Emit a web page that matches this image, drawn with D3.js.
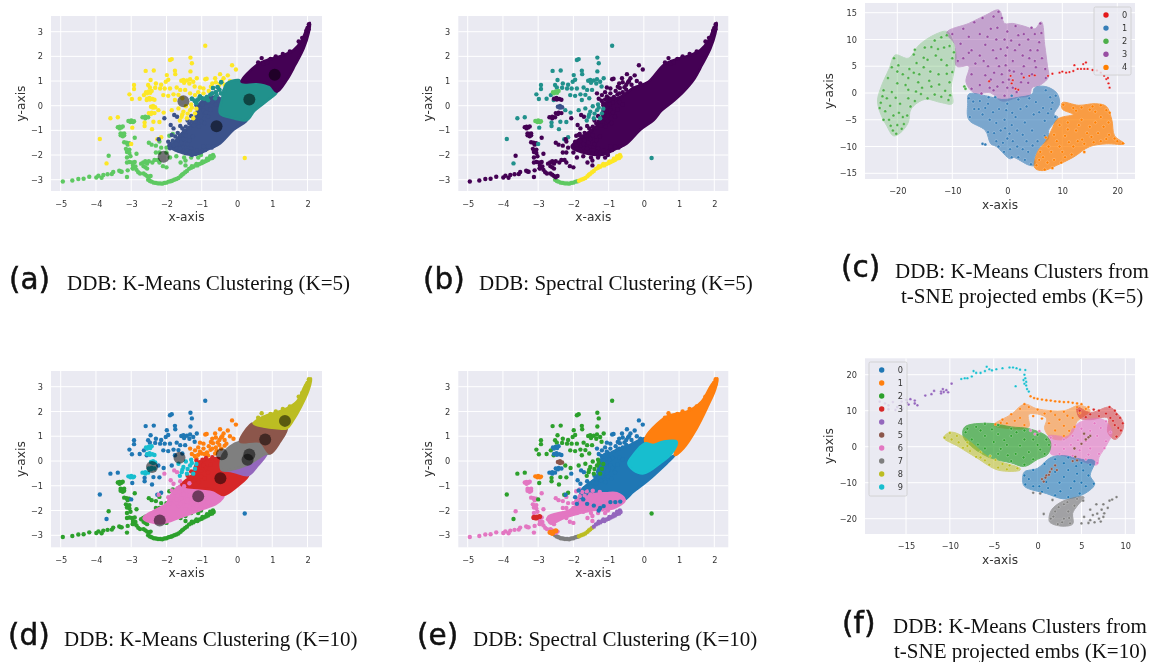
<!DOCTYPE html>
<html><head><meta charset="utf-8">
<script src="https://cdn.jsdelivr.net/npm/d3@7/dist/d3.min.js"></script>
<style>html,body{margin:0;background:#fff}svg{display:block}</style></head>
<body><svg id="c" width="1160" height="662"></svg>
<script>
// ---------- values: shared embedding (panels a, b, d, e) ----------
const ribbon=[[-4.94,-3.07],[-4.67,-3.03],[-4.5,-2.97],[-4.35,-2.96],[-4.19,-2.88],[-3.99,-2.91],[-3.93,-2.84],[-3.84,-2.92],[-3.79,-2.81],[-3.67,-2.78],[-3.55,-2.77],[-3.51,-2.69],[-3.34,-2.64],[-3.3,-2.67],[-3.27,-2.68],[-3.1,-2.62],[-3.12,-2.89],[-2.96,-2.54]];
const arcLeft=[[-2.52,-3.0],[-2.47,-3.05],[-2.42,-3.08],[-2.36,-3.12],[-2.3,-3.13],[-2.24,-3.15],[-2.18,-3.15],[-2.12,-3.16],[-2.06,-3.13],[-2,-3.12],[-1.94,-3.08],[-1.88,-3.06]];
const arcMid=[[-1.84,-3.04],[-1.78,-3],[-1.72,-2.97],[-1.66,-2.93],[-1.6,-2.86],[-1.56,-2.8],[-1.52,-2.76],[-1.47,-2.7]];
const arcRight=[[-1.42,-2.65],[-1.36,-2.56],[-1.3,-2.52],[-1.24,-2.48],[-1.18,-2.42],[-1.12,-2.42],[-1.06,-2.36],[-1,-2.33],[-.94,-2.28],[-.88,-2.24],[-.82,-2.2],[-.76,-2.14],[-.72,-2.08],[-.68,-2],[-.7,-2.12],[-.66,-2.06],[-1.28,-2.45],[-1.15,-2.36],[-.98,-2.26],[-.85,-2.15],[-.76,-2.05]];
const column=[[-3.38,-.87],[-3.33,-.85],[-3.28,-.88],[-3.24,-.84],[-3.33,-.92],[-3.3,-1.12],[-3.25,-1.15],[-3.2,-1.12],[-3.3,-1.2],[-3.24,-1.24],[-3.2,-1.2],[-3.2,-1.48],[-3.13,-1.5],[-3.06,-1.52],[-3.1,-1.58],[-3.15,-1.75],[-3.1,-1.8],[-3.05,-1.78],[-3.12,-1.88],[-3.05,-1.92],[-3.12,-2.1],[-3.02,-2.05],[-3.05,-2.28],[-3.12,-2.3],[-2.98,-2.3],[-2.9,-2.28],[-2.95,-2.42],[-2.88,-2.46],[-2.95,-2.55],[-2.85,-1.95],[-2.9,-1.3]];
const lowerLeft=[[-2.72,-2.35],[-2.66,-2.3],[-2.6,-2.25],[-2.55,-2.35],[-2.5,-2.25],[-2.4,-2.3],[-2.34,-2.2],[-2.25,-2.2],[-2.2,-2.3],[-2.1,-2.45],[-2,-2.5],[-2.65,-2.45],[-2.6,-2.5],[-2.55,-2.55],[-2.85,-2.6],[-2.8,-2.7],[-2.75,-2.75],[-2.65,-2.75],[-2.6,-2.8],[-2.55,-2.85],[-2.5,-2.9],[-2.45,-2.85],[-2.5,-1.5],[-2.42,-1.58],[-2.3,-1.62],[-2.2,-1.45],[-2.15,-1.7],[-2.3,-1.9],[-2.2,-1.9],[-2,-1.7],[-1.92,-1.22],[-1.82,-1.15],[-2,-1.9],[-1.9,-2.1],[-1.72,-2.05],[-1.5,-2.1],[-1.46,-2.22],[-1.3,-2.1],[-1.1,-2.1],[-1.6,-2.3],[-1.46,-2.42],[-1.02,-2],[-3.64,-2.03]];
const upperLeft=[[-.9,2.43],[-1.9,1.85],[-1.85,1.89],[-1.32,1.95],[-1.28,1.72],[-2.59,1.41],[-2.36,1.43],[-1.76,1.42],[-1.75,1.28],[-1.99,1.24],[-1.32,1.39],[-1.58,1.01],[-1.52,1.04],[-1.5,.93],[-2.02,.97],[-2.45,1.04],[-2.52,.84],[-2.92,.84],[-2.92,.68],[-3.05,.46],[-2.98,.27],[-2.76,.28],[-2.64,.43],[-2.56,.23],[-2.47,.74],[-2.32,.73],[-2.18,.7],[-2.05,.7],[-1.9,.7],[-1.71,.74],[-1.61,.64],[-2.09,.43],[-1.95,.4],[-1.8,.46],[-1.33,1.07],[-1.24,.97],[-1.14,1.11],[-1.47,.64],[-1.76,.23],[-1.55,.3],[-1.66,.44],[-2.23,-.18],[-1.85,-.18],[-2.08,-.28],[-2.2,-.66],[-2.37,-.65],[-2.62,-.68],[-2.62,-.82],[-2.41,-.95],[-2.97,-.89],[-3.38,-.47],[-3.59,-.51],[-3.89,-1.35],[-3.7,-2.34],[-3,-1.55],[.22,-2.12],[-2.15,-1.28],[-2.26,-1.36],[-2.3,.9],[-2.15,.85],[-1.95,1.05],[-1.42,1.02],[-1.35,.9],[-1.2,.78]];
const upperRight=[[-.14,1.64],[-.03,1.47],[-.48,1.28],[-.38,1.11],[-.26,1.23],[-.62,1.11],[-.9,1.07],[-.86,1.09],[-1.05,.74],[-.95,.7],[-.74,.77],[-1.33,.5],[-1.19,.43],[-1.1,.55],[-.95,.5],[-.8,.6],[-.6,.95],[-.5,.85],[-.35,.85],[-.2,1],[-.1,.9],[-.42,1.0],[-.7,.9],[-.3,.7]];
const midBand=[[-1.66,-.11],[-1.52,-.24],[-1.33,-.18],[-1.19,-.31],[-1.42,-.51],[-1.57,-.45],[-1.24,-.51],[-1.45,-.02],[-1.3,.05],[-1.55,-.35],[-1.4,-.32],[-1.62,-.6],[-1.28,-.08],[-1.15,-.12]];
const topFringe=[[-.55,.75],[-.5,.65],[-.6,.55],[-.75,.45],[-.85,.35],[-1,.3],[-1.1,.25],[-.45,.95],[-.68,.72],[-.92,.28],[-1.2,.2],[-.58,.42],[-1.05,.38],[-.7,.5],[-.82,.22],[-.62,.3],[-.45,.5],[-.35,.62],[-1.15,.1],[-1.28,.28]];
const lowerMid=[[-1.78,-.38],[-1.7,-.45],[-1.88,-.78],[-1.8,-.92],[-1.61,-.82],[-1.85,-1.19],[-1.95,-1.46],[-1.9,-1.73],[-2.06,-.51],[-2.22,-1.36],[-1.28,-2],[-1.24,-1.9],[-.95,-1.66],[-.81,-1.66],[-.67,-1.64],[-1.42,-1.8],[-1.61,-1.73],[-1.14,-1.82],[-1.72,-1.55],[-1.5,-1.02],[-1.35,-.9],[-1.68,-1.1]];
const scatterHigh=[[-1.3,-.42],[-1.18,-.65],[-1.12,-.28],[-1.05,-.05],[-1.02,-.4],[-.95,-.18],[-.92,-.7],[-.88,.12],[-.82,-.45],[-.75,-.15],[-.7,.15],[-1.08,-.85],[-1.22,-.8],[-1.35,-.72],[-1.45,-.85],[-1.55,-.92],[-.98,.05],[-1.15,.02],[-.6,.05],[-1.02,-.62],[-1.16,-.48],[-.88,-.28],[-1.28,-.65],[-1.4,-.6]];
const scatterLow=[[-1.75,-1.25],[-1.68,-1.4],[-1.62,-1.22],[-1.58,-1.5],[-1.52,-1.35],[-1.45,-1.2],[-1.4,-1.55],[-1.35,-1.4],[-1.3,-1.72],[-1.25,-1.25],[-1.82,-1.42],[-1.78,-1.62],[-1.7,-1.72],[-1.55,-1.68],[-1.45,-1.92],[-1.35,-1.85],[-1.18,-1.96],[-1.02,-1.88],[-.9,-1.8],[-.72,-1.7],[-1.88,-1.55],[-1.65,-1.82],[-1.5,-1.8],[-1.92,-1.62]];
const tipFringe=[[.7,1.93],[.6,1.75],[.75,1.7],[.85,1.75],[1.75,2.6],[1.85,2.75],[1.9,2.7],[2.04,3.3],[2.0,3.15],[1.97,3.05],[2.03,3.1],[1.1,2],[1.3,2.1],[1.5,2.2],[.95,1.9]];
const blobTop=[[-2.58,.55],[-2.5,.58],[-2.42,.6],[-2.55,.5],[-2.46,.52]];
const blobSecond=[[-2.55,.28],[-2.47,.25],[-2.4,.27],[-2.34,.24],[-2.48,.31]];
const blobThird=[[-2.44,-.04],[-2.38,-.01],[-2.32,-.06],[-2.38,-.08]];
const blobFourth=[[-2.5,-.3],[-2.42,-.28],[-2.34,-.3],[-2.44,-.34]];
const blobFifth=[[-2.68,-.47],[-2.6,-.45],[-2.52,-.47],[-2.6,-.51]];
const blobSixth=[[-3.08,-.62],[-3,-.6],[-2.92,-.63],[-3.02,-.66],[-2.95,-.66]];
const blobRed=[[-3.12,-2.28],[-3.04,-2.27],[-2.96,-2.24],[-3.06,-2.3]];
const blobOrange=[[-2.66,-2.88],[-2.58,-2.87],[-2.5,-2.82],[-2.6,-2.92]];

// dense bodies as outlines (x, y)
const bodyA0=[[.13,.97],[.56,1.65],[.85,1.85],[1.32,2.05],[1.6,2.25],[1.84,2.66],[1.98,3.13],[2.07,3.36],[2.03,2.93],[1.89,2.32],[1.65,1.65],[1.41,1.04],[1.13,.57],[.94,.84],[.56,.97]];
const bodyA1=[[-.29,.9],[.04,1.04],[.13,.97],[.56,.97],[.94,.84],[1.13,.57],[.85,.2],[.5,-.2],[.28,-.58],[-.1,-.51],[-.48,-.31],[-.43,.23]];
const bodyA2=[[-1.8,-1.53],[-1.57,-1.12],[-1.24,-.72],[-1.05,.1],[-.67,.36],[-.43,.23],[-.48,-.31],[-.1,-.51],[.28,-.58],[-.1,-.98],[-.48,-1.53],[-.76,-1.73],[-1.24,-2],[-1.9,-1.66]];
const bodyAll=[[-2.05,-1.65],[-1.6,-1.1],[-1.25,-.7],[-1.1,.1],[-.67,.36],[-.29,.72],[.13,.97],[.56,1.65],[.85,1.85],[1.32,2.05],[1.6,2.25],[1.84,2.66],[1.98,3.13],[2.07,3.36],[2.03,2.93],[1.89,2.32],[1.65,1.65],[1.41,1.04],[1.13,.57],[.85,.2],[.5,-.2],[.28,-.58],[-.1,-.98],[-.48,-1.53],[-.76,-1.73],[-1.24,-2],[-1.9,-1.82]];
const bodyD0=[[.47,1.52],[.75,1.79],[1.32,2.06],[1.7,2.4],[1.94,3.07],[2.1,3.34],[2.03,2.87],[1.84,2.26],[1.6,1.66],[1.41,1.32],[1.13,1.32],[.75,1.39]];
const bodyD1=[[.37,1.45],[.47,1.52],[.75,1.39],[1.13,1.32],[1.41,1.32],[1.22,.78],[.94,.31],[.65,.78],[.09,.78]];
const bodyD2=[[-.2,.58],[.09,.78],[.65,.78],[.94,.31],[.8,.28],[.28,-.16],[-.2,-.36],[-.43,-.36],[-.43,.17]];
const bodyD3=[[-.43,-.36],[-.2,-.36],[.28,-.16],[.85,.3],[.56,-.23],[.32,-.57],[-.1,-.43]];
const bodyD4=[[-.48,.1],[-.43,-.4],[-.1,-.46],[.32,-.57],[-.01,-1.04],[-.38,-1.37],[-.67,-1.17],[-1.05,-1.1],[-1.57,-.97],[-1.28,-.57],[-1.14,-.1],[-.86,.04]];
const bodyD5=[[-1.57,-.97],[-.67,-1.17],[-.38,-1.37],[-.57,-1.71],[-1.05,-1.98],[-1.57,-2.25],[-2.18,-2.52],[-2.65,-2.31],[-1.99,-1.71],[-1.9,-1.44]];
const bodyE0=[[.03,.85],[.65,1.79],[1.22,1.99],[1.64,2.4],[1.92,3.07],[2.09,3.34],[2.02,2.87],[1.83,2.26],[1.5,1.32],[1.12,.51],[.88,.24],[.93,.78],[.55,.78],[.17,.58]];
const bodyE1=[[-.44,-.09],[-.3,.24],[.03,.71],[.27,.65],[.55,.78],[.93,.78],[.79,.31],[.46,-.09],[0,-.5],[-.3,-.36]];
const bodyE2=[[-.87,.38],[-.39,.65],[.03,.92],[.17,.58],[.03,.71],[-.3,.24],[-.44,-.09],[-.3,-.36],[0,-.5],[.46,-.09],[.88,.24],[.65,-.09],[.08,-.83],[-.3,-1.24],[-.58,-1.57],[-.87,-1.3],[-1.34,-1.3],[-1.81,-1.71],[-1.76,-1.17],[-1.34,-.63],[-1.24,.04]];
const bodyE3=[[-.77,-1.3],[-.54,-1.57],[-.87,-1.91],[-1.43,-1.98],[-2.19,-2.25],[-2.66,-2.52],[-2.71,-2.25],[-2.1,-1.98],[-1.53,-1.39],[-1.06,-1.3]];

const centersA=[[1.07,1.25],[.35,.25],[-.58,-.83],[-1.52,.18],[-2.08,-2.07]];
const centersD=[[1.36,1.62],[.8,.87],[.35,.26],[.3,.05],[-.43,.27],[-.47,-.7],[-1.1,-1.42],[-1.63,.13],[-2.41,-.24],[-2.19,-2.4]];

// ---------- t-SNE panel (c) ----------
const outC1=[[-20.4,7.1],[-21.5,4.5],[-23,1],[-23.6,-1.5],[-23,-4],[-22,-6],[-20.7,-8],[-19.5,-7.5],[-18,-5.5],[-17.5,-3],[-15,-1.2],[-12,-1.8],[-10,-2],[-10.2,1],[-9.5,5],[-9.3,7],[-10,10],[-11,11.5],[-13,11],[-16,9],[-18,6.5]];
const outC2=[[-11,11.3],[-7,13],[-4,14.5],[-1.5,15.5],[-.5,13],[1,13],[3,12.5],[5,12],[6.2,13.3],[6.8,9],[7.3,5],[7.5,3],[6,1.5],[4.5,1],[4,-.5],[2,-.8],[-1,-1.5],[-3,0],[-6,0],[-7.5,2],[-7,5],[-9.2,5],[-9.5,9]];
const outC3=[[-7,-.2],[-4,-.5],[-1,-1.2],[2,-.8],[4.5,-.2],[5,1],[7,1.2],[9,0],[9.5,-2],[8.5,-4],[9.2,-4.5],[7.5,-7],[7.5,-8.5],[6,-10],[5,-12],[5,-13.5],[4,-13.5],[1,-12],[.5,-12.3],[-2,-10],[-3,-9.5],[-4,-7],[-7,-5],[-7.2,-2]];
const outC4=[[10,-1.8],[13,-2.3],[16,-2],[18,-2.5],[19,-5],[19.5,-8],[21.3,-9.5],[18,-9.5],[15,-10],[12,-12],[9,-13.5],[6.5,-14.5],[5,-14],[5.5,-11],[7,-9],[8,-7],[9,-5],[10,-4.5],[12,-4],[10,-3]];
const dotsC0=[[4,3.2],[3,2.9],[5,3.3],[7.4,3.2],[8.2,3.6],[9.5,3.8],[10,4],[10.7,3.8],[11.3,3.9],[12,4.1],[12.2,5.2],[12.8,4.5],[13.4,4.5],[13.8,5.4],[14,4.5],[14.3,5.7],[14.6,4.5],[15.5,4.3],[16.3,4.2],[17,3.8],[17.6,3.2],[18,2.6],[18.4,1.8],[18.6,1],[18.3,2.8],[0.6,3.2],[1,2.4],[1.5,.8],[2,.6],[-3.3,2.2],[.8,1.8]];
const dotsC1=[[-20.6,6.5],[-20,4],[-21.7,2.8],[-22.5,.5],[-23,-1.8],[-22.2,-3.4],[-21.5,-5],[-20.8,-7],[-20,-6],[-19,-4.5],[-19.5,-2],[-18,-1],[-18.5,1.5],[-19.8,5.2],[-17.8,4.5],[-18,2.8],[-16.5,5.6],[-16,3.5],[-15,8.5],[-14.5,6.2],[-13.2,9.8],[-12,10.4],[-11,10.8],[-11.5,8.5],[-13,7],[-14,4],[-15.5,1],[-13.8,1.2],[-12.5,3.5],[-12,-.7],[-10.7,-1.3],[-10.5,2],[-11,5.2],[-10,6.5],[-10.5,8.8],[-12,6.2],[-16.8,-1.5],[-20.7,-4.2],[-19.2,-6.7],[-18.2,-4.2],[-23.2,-2.8],[-17,7.2],[-15.2,4.8],[-13.2,-.3],[-7.8,1.2],[-7.6,.8],[-14.2,2.3],[-21,.2],[-20,1.8],[-19,3.5],[-21.3,-2.4],[-16.6,.3],[-11.3,.4],[-22.7,-.6],[-21.9,-1],[-20.3,-.9],[-19.7,-3.7],[-21.2,-6.1],[-20.2,-7.6],[-22.5,-5],[-18.8,-5.8],[-17.6,-2.5],[-15.7,-.2],[-14.5,-1],[-16.2,2],[-17,3.8],[-15.2,6.6],[-13.8,8.6],[-12.6,8.2],[-11,3.6],[-10,3.9],[-9.7,7.6],[-12.4,1.6],[-10.4,-.4],[-18,.6],[-21,4.8],[-16.8,8.1]];
const dotsC2=[[-10,11],[-8,12],[-6,13.2],[-4.5,14],[-2.5,14.3],[-1.6,15.2],[-1,14],[-3,12],[-5,11],[-7,10.5],[-8.5,9.2],[-6.5,8],[-8,6.5],[-5,7],[-4,9],[-2,10],[0,11.5],[1.5,12.5],[3,11],[5,11],[6,13],[5.8,9.5],[4.2,8],[2.2,9],[0,8.5],[-2,6.5],[-3.5,5],[-6.5,3.5],[-5,1.5],[-3,2.5],[-1,3.5],[1,6],[3,5],[5,6],[6.3,6.5],[6.9,4.5],[7,2.8],[4.5,3.5],[2.5,2],[0,1],[-2.5,.5],[-6.5,.8],[-.5,-.5],[1.7,.2],[-9,6],[-4,3.3],[-.3,5.2],[.7,9.8],[3.8,10],[-2.6,8],[-4.3,6],[-1.2,8.2],[-.5,10],[1.4,8],[2.8,7],[-1.5,5],[-.8,2],[1.2,4],[.3,2.5],[3.8,1.9],[5.2,4.8],[-3.6,10.5],[-1.8,12.2],[-5.8,5.5],[-7,7.5],[-4.7,-.1],[-3.2,1],[1,1],[2.6,3.6],[4,6.5],[5.5,8],[6.2,11.2],[4.4,12.2],[-.3,7],[-2.4,3.8],[.4,4.2],[-1.8,1.2],[2,10.8]];
const dotsC3=[[-7,-1],[-6,-3],[-6.8,-4.5],[-5,-1.5],[-4.5,-4],[-3.5,-2],[-3.2,-5],[-3.5,-7.3],[-2,-9],[-4.5,-9.5],[-4,-9.6],[-1.5,-3],[-.5,-5],[-1.2,-7],[0,-8.5],[.5,-10.5],[2,-12],[3.2,-12.5],[3.5,-9],[1.8,-7],[1.5,-4.5],[0,-2],[2,-1.2],[3.5,-2.5],[3.2,-5.5],[4.8,-4],[4.5,-7],[5.5,-9],[6.8,-8],[6.8,-5.2],[5.2,-1.7],[6.5,-2.8],[7.8,-.8],[8.8,-.5],[7,.5],[8,-3],[8.7,-4.5],[4.3,-13.3],[.8,-12],[-.6,-11],[-5.2,-3],[-2.2,-.8],[.8,-.5],[2.8,-10.5],[-.8,-9.3],[.8,-6],[-2.6,-3.6],[-2,-5.6],[-.2,-3.2],[.9,-3.7],[2.4,-3],[-.4,-6.6],[.4,-7.6],[2.8,-7.8],[1,-9],[-1.6,-10],[-2.4,-7.5],[4.6,-9.8],[3.8,-11],[1.8,-10],[5.8,-3.6],[7.4,-3.8],[8.2,-1.8],[4,-1],[-6.2,-1.6],[-4,-2.8],[-3.4,-.8]];
const dotsC4=[[10.2,-2.2],[12,-2.8],[13.5,-2.7],[15.5,-2.5],[17,-2.3],[18,-3.2],[17,-4.5],[18.4,-5.5],[16,-5.5],[13.5,-5],[11,-5.5],[9.5,-6],[8.5,-7.8],[10.5,-8],[12.5,-7],[14.5,-7.5],[16.5,-7.5],[18.5,-7.8],[19.5,-8.5],[21,-9.4],[17,-9],[14,-9.5],[12,-10],[9.5,-10],[7.5,-10],[6.5,-12],[8.5,-12.5],[10.5,-12],[6.8,-14.3],[5.3,-13.5],[8.2,-14],[18.6,-3.7],[15,-3.1],[12.5,-3.3],[6,-11],[11.7,-11.5],[15.7,-9.2],[20,-9],[13.6,-8.7],[7,-8.3],[9,-9],[11,-6.8],[13,-6],[15,-6.3],[17.5,-6.3],[16,-3.5],[14,-11],[10,-11],[8,-11],[5.8,-12.5],[7.3,-13],[9.8,-13],[12.8,-9],[15.3,-8.2],[18,-8.6],[11.2,-9.2]];

// ---------- t-SNE panel (f) ----------
const outF1=[[-5,6],[-3,9],[-1.5,11.8],[0,10.5],[3,10],[4.8,11.5],[6,10],[4.5,7],[4,4],[3,2],[1.5,2.5],[.8,5],[1,8],[-1,9],[-1,5.5],[-3,5]];
const outF2=[[4.5,11],[6,9.5],[8.2,11],[9,9.5],[9.8,6.5],[9.5,3.5],[8.8,2],[8,4],[8,8],[6,7.5],[4.8,8]];
const outF3=[[1.2,3],[3.5,3],[4,5],[5,7],[7.5,7.5],[8.5,4],[8,1],[7,-3],[6.8,-5],[5,-4],[3,-2.5],[1.5,-2],[1.5,1]];
const outF4=[[-8.3,5.5],[-5.5,6.5],[-3,5.5],[-1,5],[1,3],[1.5,1],[1.2,-2],[0,-3.5],[-1.5,-5.5],[-3,-4.5],[-5.5,-3],[-7.5,0],[-8.5,3]];
const outF5=[[-10.7,2.5],[-10,4],[-9,3.5],[-7.5,1],[-5.5,-3],[-2,-6],[-2,-6.5],[-4.5,-6.5],[-7,-3],[-9,0]];
const outF6=[[-1.5,-7],[0,-6],[1.5,-3],[3,-2.5],[5,-3.5],[6.5,-4],[6,-8],[6.5,-10.5],[5,-13.5],[3,-14.5],[1,-13],[-1.5,-11],[-1.7,-9]];
const outF7=[[1.3,-20],[1.6,-17.5],[3,-15],[5.3,-14],[4.5,-16.5],[4,-18.5],[4,-21.5],[2.5,-22],[1.4,-21]];
const dotsF1=[[-4.8,6.2],[-4,7.5],[-3,9],[-2,10.5],[-1.5,11.8],[-1,11],[0,10.3],[1.5,9.8],[3,9.7],[4.5,11],[5.5,10.5],[4,8],[2.5,7.5],[1.3,6.5],[.5,7.8],[-.5,8.5],[-2,8],[-3.5,6.5],[-1.5,6],[2,4.5],[3,3],[4.2,5.5],[-.8,14],[0,13.3],[1,12.9],[2,12.6],[3,12.4],[4,12.2],[5,11.8],[5.8,11],[-.4,13.5],[.5,13.1],[1.5,12.8],[2.5,12.5],[3.5,12.4],[4.5,12],[2,8.8],[3.4,8.6],[4.8,9.4],[.8,9.2],[-2.6,7.2],[-4.2,6.6],[3,5.8],[3.6,4.4]];
const dotsF2=[[4.8,10],[6,9],[7,10],[8.2,11],[8.8,10],[9.4,8],[9.7,6.5],[9.5,4.5],[9,2.8],[8.3,8],[7,8.5],[5.5,8.2],[8.8,6],[9,9],[6.4,10.3],[7.8,9.2],[9.2,5.2],[8.6,7.2]];
const dotsF3=[[1.5,2.5],[3,2],[4,3],[5,5],[6.5,6.5],[7.8,7],[8.3,4],[7.8,1.5],[7,-2],[6.8,-4.5],[5.5,-3.5],[4,-2.5],[2.5,-2],[2,.5],[3.8,.5],[5.5,1.5],[6.8,3],[4.8,-1],[6,-.5],[-.8,4.5],[.2,4.3],[-.3,3.5],[3,-.6],[4.6,1.8],[6,4.4],[7.2,5.2],[7.6,-.4],[5.8,-2.2]];
const dotsF4=[[-8,5],[-7,5.5],[-6,6.3],[-4.5,6],[-3,5],[-1.5,4.5],[0,3.3],[1,2],[1.3,.5],[.8,-2],[-.5,-3.5],[-1.5,-5],[-3,-4],[-4.5,-2],[-6,-.5],[-7.5,2],[-6,3],[-4.5,3.5],[-3,3],[-1.5,2],[0,.5],[-2,.3],[-3.5,.5],[-1,-1.5],[-2.5,-2],[-5,1.3],[-6.5,4.5],[-8.2,4],[-3.8,1.8],[-2.4,4],[-.5,2],[.3,-.8],[-1.6,-3],[-3.4,-2.4],[-5.2,4.8],[-4.2,-.6],[-6.8,.6]];
const dotsF5=[[-10.6,2.5],[-10,3.8],[-9.2,3],[-9,1.2],[-8,1.2],[-7.7,-1.2],[-6.5,-1.5],[-6,-3.8],[-4.8,-3.7],[-4.5,-5.8],[-3.2,-5.2],[-2.3,-6],[-3.5,-6.3],[-5.5,-5],[-7,-2.8],[-8.5,-.3],[-9.8,2],[-8,.2],[-6.5,-3],[-5.4,-2.6],[-4,-4.8]];
const dotsF6=[[-1.5,-8],[-1.4,-10.5],[-.5,-11],[.5,-12.5],[2,-13.5],[3.5,-14],[4.8,-13],[6.4,-10.3],[5.5,-11],[5.8,-8],[6,-5],[5,-4.5],[3.5,-3],[2,-3.5],[.8,-4.8],[-.5,-6.5],[2,-7],[3.5,-6.5],[4.5,-7.5],[2.5,-10],[3.8,-11.5],[1,-9.8],[.2,-11],[5,-10],[1.2,-11.5],[3,-8.4],[4.4,-5.4],[5.2,-6.6],[3,-4.6],[-1,-9],[2.6,-12.4],[4.2,-9.6]];
const dotsF7=[[1.5,-20],[2,-18],[3,-16],[4.5,-14.5],[3.5,-18],[3,-20],[2.3,-21.5],[3.7,-21.3],[.7,-18.7],[1.7,-14.8],[.3,-13],[-.5,-12.8],[5.2,-15],[6,-17.5],[6.7,-16],[7.5,-16],[8.2,-15],[9,-14],[8.5,-14.7],[7.3,-17.5],[6.3,-19],[7.5,-19.5],[7.2,-20.8],[6.5,-21],[5.8,-21.2],[5,-21.3],[5.3,-19.5],[7,-20],[2.4,-16.8],[1.8,-19.4],[2.8,-21],[3.6,-19.8],[3.4,-15.4],[4.2,-16.4],[6,-20.4],[8,-17],[7.6,-18.5],[6.8,-18.6]];
const dotsF8=[[.5,-9],[1,-8],[1.4,-7],[.7,-9.7],[1.6,-6.2],[2,-5.2],[2.2,-6.5],[4,-4],[4.3,-2.8],[4.2,-.5],[5,.8],[5.5,2],[6,3],[5.3,3.6],[4.5,-3.8],[.9,-8.6],[1.3,-7.8],[5.8,2.6]];
const dotsF9=[[-15,13],[-14.5,13.2],[-14,12.8],[-14.9,12.2],[-14.7,11.7],[-14,12],[-13.7,11.5],[-12.8,14.2],[-12.1,14.6],[-11.8,15.5],[-11,15.3],[-10.8,16],[-10.4,15.7],[-10.7,15.2],[-11,14.8],[-10.2,15.1],[-9.8,17.5],[-18,12.5],[-16,11],[-17,11.5],[-15.5,12.5],[-16.5,12.4],[-17.4,12],[-16.2,10.2],[-15.4,10.6],[-17,10.4],[-15.6,11.6]];
const dotsF10=[[-8.7,18.8],[-8.3,19],[-8,19],[-7.5,19.5],[-7.3,21],[-7,20.5],[-6.5,20.5],[-6,21],[-5.8,22.2],[-5.5,21.5],[-5.2,21.2],[-4.7,21.5],[-4,21.8],[-3.2,22],[-2.8,22],[-2.4,21.8],[-2,21.4],[-1.5,20],[-1.4,19],[-1.6,18.5],[-1.3,18],[-1.5,17.5],[-1.3,17],[-1.2,16],[-1,15.3],[-1.4,21.3],[-2.5,16.8]];

const legendC=["0","1","2","3","4"];
const legendF=["0","1","2","3","4","5","6","7","8","9"];
const ticksX1=[-5,-4,-3,-2,-1,0,1,2], ticksY1=[-3,-2,-1,0,1,2,3];
const ticksXc=[-20,-10,0,10,20], ticksYc=[-15,-10,-5,0,5,10,15];
const ticksXf=[-15,-10,-5,0,5,10], ticksYf=[-20,-10,0,10,20];
const captions=[
 ["(a)","DDB: K-Means Clustering (K=5)",""],["(b)","DDB: Spectral Clustering (K=5)",""],
 ["(c)","DDB: K-Means Clusters from","t-SNE projected embs (K=5)"],
 ["(d)","DDB: K-Means Clustering (K=10)",""],["(e)","DDB: Spectral Clustering (K=10)",""],
 ["(f)","DDB: K-Means Clusters from","t-SNE projected embs (K=10)"]];

// ---------- colours ----------
const V=["#440154","#3b528b","#21918c","#5ec962","#fde725"];
const T=["#1f77b4","#ff7f0e","#2ca02c","#d62728","#9467bd","#8c564b","#e377c2","#7f7f7f","#bcbd22","#17becf"];
const S=["#e41a1c","#377eb8","#4daf4a","#984ea3","#ff7f00"];
const shared=[["ribbon",ribbon],["arcLeft",arcLeft],["arcMid",arcMid],["arcRight",arcRight],["column",column],["lowerLeft",lowerLeft],["upperLeft",upperLeft],["upperRight",upperRight],["topFringe",topFringe],["blobTop",blobTop],["blobSecond",blobSecond],["blobThird",blobThird],["blobFourth",blobFourth],["blobFifth",blobFifth],["blobSixth",blobSixth]];
const colA={ribbon:V[3],arcLeft:V[3],arcMid:V[3],arcRight:V[3],column:V[3],lowerLeft:V[3],upperLeft:V[4],upperRight:V[4],topFringe:V[2],blobTop:V[4],blobSecond:V[4],blobThird:V[4],blobFourth:V[4],blobFifth:V[3],blobSixth:V[3]};
const colB={ribbon:V[0],arcLeft:V[3],arcMid:V[4],arcRight:V[4],column:V[0],lowerLeft:V[0],upperLeft:V[2],upperRight:V[0],topFringe:V[0],blobTop:V[3],blobSecond:V[0],blobThird:V[1],blobFourth:V[0],blobFifth:V[0],blobSixth:V[3]};
const colD={ribbon:T[2],arcLeft:T[2],arcMid:T[2],arcRight:T[2],column:T[2],lowerLeft:T[2],upperLeft:T[0],upperRight:T[1],topFringe:T[1],blobTop:T[9],blobSecond:T[9],blobThird:T[9],blobFourth:T[9],blobFifth:T[9],blobSixth:T[9]};
const colE={ribbon:T[6],arcLeft:T[7],arcMid:T[8],arcRight:T[4],column:T[6],lowerLeft:T[6],upperLeft:T[2],upperRight:T[0],topFringe:T[0],blobTop:T[0],blobSecond:T[0],blobThird:T[5],blobFourth:T[0],blobFifth:T[0],blobSixth:T[1]};

// ---------- layout ----------
const svg=d3.select("#c");
const root=svg.append("g").style("filter","blur(.4px)");
const line=d3.line().curve(d3.curveCatmullRomClosed.alpha(.5));
function panel(o){
 const g=root.append("g");
 const x=d3.scaleLinear().domain(o.xd).range(o.xr), y=d3.scaleLinear().domain(o.yd).range(o.yr);
 g.append("rect").attr("x",o.box[0]).attr("y",o.box[1]).attr("width",o.box[2]-o.box[0]).attr("height",o.box[3]-o.box[1]).attr("fill","#eaeaf2");
 g.selectAll("line.v").data(o.tx).enter().append("line").attr("class","v").attr("x1",x).attr("x2",x).attr("y1",o.box[1]).attr("y2",o.box[3]).attr("stroke","#fff").attr("stroke-width",1);
 g.selectAll("line.h").data(o.ty).enter().append("line").attr("class","h").attr("y1",y).attr("y2",y).attr("x1",o.box[0]).attr("x2",o.box[2]).attr("stroke","#fff").attr("stroke-width",1);
 const fmt=d3.format("d");
 const ax=g.append("g").attr("transform",`translate(0,${o.box[3]})`).call(d3.axisBottom(x).tickValues(o.tx).tickFormat(fmt).tickSize(0).tickPadding(o.tickPadX));
 const ay=g.append("g").attr("transform",`translate(${o.box[0]},0)`).call(d3.axisLeft(y).tickValues(o.ty).tickFormat(fmt).tickSize(0).tickPadding(o.tickPadY));
 [ax,ay].forEach(a=>{a.select(".domain").remove();a.selectAll("text").attr("font-family","DejaVu Sans").attr("font-size",8.2).attr("fill","#333")});
 g.append("text").attr("x",(o.box[0]+o.box[2])/2).attr("y",o.xlabY).attr("text-anchor","middle").attr("font-family","DejaVu Sans").attr("font-size",12.2).attr("fill","#333").text("x-axis");
 g.append("text").attr("transform",`translate(${o.ylabX},${(o.box[1]+o.box[3])/2}) rotate(-90)`).attr("text-anchor","middle").attr("font-family","DejaVu Sans").attr("font-size",12.2).attr("fill","#333").text("y-axis");
 return {g,x,y};
}
function area(p,pts,c,op,w){p.g.append("path").attr("d",line(pts.map(d=>[p.x(d[0]),p.y(d[1])]))).attr("fill",c).attr("stroke",c).attr("stroke-width",w==null?2.5:w).attr("stroke-linejoin","round").attr("opacity",op==null?1:op)}
function dots(p,pts,c,r,edge){const s=p.g.append("g").selectAll("circle").data(pts).join("circle").attr("cx",d=>p.x(d[0])).attr("cy",d=>p.y(d[1])).attr("r",r).attr("fill",c);if(edge)s.attr("stroke","#fff").attr("stroke-width",.25)}
function centers(p,pts){dots(p,pts,"rgba(0,0,0,.52)",6)}

const gx=[-5,2];
const pa=panel({box:[51,16,322,191],xd:gx,xr:[60.7,307.5],yd:[-3,3],yr:[179.7,31.7],tx:ticksX1,ty:ticksY1,tickPadX:10,tickPadY:8,xlabY:221,ylabX:25});
const pb=panel({box:[458.3,16,728.3,191],xd:gx,xr:[467.7,714.3],yd:[-3,3],yr:[179.7,31.7],tx:ticksX1,ty:ticksY1,tickPadX:10,tickPadY:8,xlabY:221,ylabX:432});
const pd=panel({box:[51,371,322,547.3],xd:gx,xr:[60.7,307.5],yd:[-3,3],yr:[535.3,386.7],tx:ticksX1,ty:ticksY1,tickPadX:10,tickPadY:8,xlabY:577,ylabX:25});
const pe=panel({box:[458.3,371,728.3,547.3],xd:gx,xr:[467.7,714.3],yd:[-3,3],yr:[535.3,386.7],tx:ticksX1,ty:ticksY1,tickPadX:10,tickPadY:8,xlabY:577,ylabX:432});
const pc=panel({box:[865,3,1135,179],xd:[-20,20],xr:[897.3,1117.3],yd:[-15,15],yr:[173.3,12.7],tx:ticksXc,ty:ticksYc,tickPadX:9,tickPadY:8,xlabY:209,ylabX:833});
const pf=panel({box:[865,358.3,1135,534],xd:[-15,10],xr:[906,1125.3],yd:[-20,20],yr:[518.7,374.7],tx:ticksXf,ty:ticksYf,tickPadX:9,tickPadY:8,xlabY:564,ylabX:833});

const R=2.2;
function sharedDots(p,col){shared.forEach(([k,pts])=>dots(p,pts,col[k],R))}
sharedDots(pa,colA);
area(pa,bodyA2,V[1]);area(pa,bodyA1,V[2]);area(pa,bodyA0,V[0]);
dots(pa,scatterHigh,V[1],R);dots(pa,scatterLow,V[1],R);dots(pa,midBand,V[4],R);dots(pa,topFringe,V[2],R);dots(pa,lowerMid,V[1],R);dots(pa,tipFringe,V[0],R);centers(pa,centersA);

sharedDots(pb,colB);
area(pb,bodyAll,V[0]);dots(pb,scatterHigh,V[0],R);dots(pb,scatterLow,V[0],R);dots(pb,lowerMid,V[0],R);dots(pb,midBand,V[2],R);dots(pb,tipFringe,V[0],R);

sharedDots(pd,colD);
area(pd,bodyD5,T[6]);area(pd,bodyD4,T[3]);area(pd,bodyD3,T[4]);area(pd,bodyD2,T[7]);area(pd,bodyD1,T[5]);area(pd,bodyD0,T[8]);
dots(pd,scatterHigh,T[3],R);dots(pd,scatterLow,T[6],R);dots(pd,midBand,T[9],R);dots(pd,lowerMid,T[6],R);dots(pd,tipFringe,T[8],R);centers(pd,centersD);

sharedDots(pe,colE);
dots(pe,blobRed,T[3],2.6);dots(pe,blobOrange,T[1],2.6);
area(pe,bodyE2,T[0]);area(pe,bodyE3,T[6]);area(pe,bodyE0,T[1]);area(pe,bodyE1,T[9]);
dots(pe,scatterHigh,T[0],R);dots(pe,scatterLow,T[6],R);dots(pe,lowerMid,T[0],R);dots(pe,midBand,T[2],R);dots(pe,tipFringe,T[1],R);

area(pc,outC1,S[2],.3,1);area(pc,outC2,S[3],.45,1);area(pc,outC3,S[1],.62,1);area(pc,outC4,S[4],.72,1);
const rt=1.5;
dots(pc,dotsC1,S[2],rt,1);dots(pc,dotsC2,S[3],rt,1);dots(pc,dotsC3,S[1],rt,1);dots(pc,dotsC4,S[4],rt,1);dots(pc,dotsC0,S[0],1.2,1);

area(pf,outF1,T[1],.5,1);area(pf,outF2,T[3],.5,1);area(pf,outF3,T[6],.62,1);area(pf,outF4,T[2],.68,1);area(pf,outF5,T[8],.55,1);area(pf,outF6,T[0],.6,1);area(pf,outF7,T[7],.68,1);
dots(pf,dotsF1,T[1],1.4,1);dots(pf,dotsF2,T[3],1.4,1);dots(pf,dotsF3,T[6],1.4,1);dots(pf,dotsF4,T[2],1.4,1);dots(pf,dotsF5,T[8],1.4,1);dots(pf,dotsF6,T[0],1.4,1);dots(pf,dotsF7,T[7],1.4,1);dots(pf,dotsF8,T[5],1.4,1);dots(pf,dotsF9,T[4],1.4,1);dots(pf,dotsF10,T[9],1.3,1);

function legend(b,labels,cols,mx,tx,y0,dy){
 const g=root.append("g");
 g.append("rect").attr("x",b[0]).attr("y",b[1]).attr("width",b[2]).attr("height",b[3]).attr("rx",1.5).attr("fill","rgba(234,234,242,.82)").attr("stroke","#ccc").attr("stroke-width",.8);
 const it=g.selectAll("g").data(labels).join("g").attr("transform",(d,i)=>`translate(0,${y0+i*dy})`);
 it.append("circle").attr("cx",mx).attr("r",2.7).attr("fill",(d,i)=>cols[i]);
 it.append("text").attr("x",tx).attr("y",3).attr("font-family","DejaVu Sans").attr("font-size",8.2).attr("fill","#333").text(d=>d);
}
legend([1094,7,37,68],legendC,S,1106,1122,15,13.1);
legend([869,362,38,134],legendF,T,881.7,897.7,370,13);

// ---------- captions ----------
const capPos=[[9,289,67,290,0,0],[423,289,479,290,0,0],[841,277,895,278,901,303],[8,645,64,646,0,0],[417,645,473,646,0,0],[842,633,893,633,894,658]];
captions.forEach((c,i)=>{const p=capPos[i];
 root.append("text").attr("x",p[0]).attr("y",p[1]).attr("font-family","DejaVu Sans").attr("font-size",29.5).attr("fill","#111").attr("stroke","#111").attr("stroke-width",.5).text(c[0]);
 root.append("text").attr("x",p[2]).attr("y",p[3]).attr("font-family","Liberation Serif").attr("font-size",21).attr("fill","#111").text(c[1]);
 if(c[2])root.append("text").attr("x",p[4]).attr("y",p[5]).attr("font-family","Liberation Serif").attr("font-size",21).attr("fill","#111").text(c[2]);
});
</script></body></html>
